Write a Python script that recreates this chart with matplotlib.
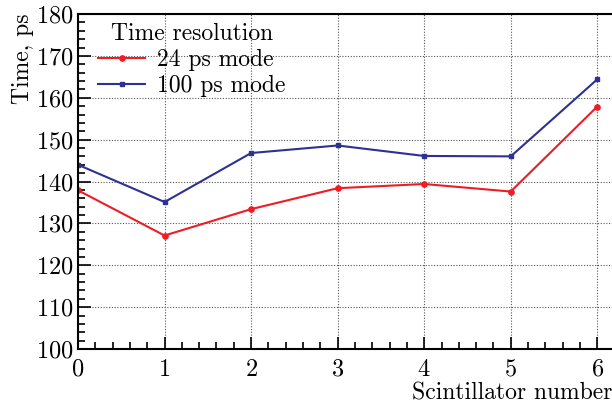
import matplotlib
matplotlib.use("Agg")
import matplotlib.pyplot as plt
from matplotlib.ticker import MultipleLocator

# valeurs
scint = [0, 1, 2, 3, 4, 5, 6]
res_24ps = [137.9, 127.1, 133.4, 138.4, 139.4, 137.6, 157.9]
res_100ps = [144.0, 135.1, 146.8, 148.6, 146.1, 146.0, 164.4]

plt.rcParams["font.family"] = "cmr10"
plt.rcParams["mathtext.fontset"] = "cm"
plt.rcParams["axes.formatter.use_mathtext"] = True

fig = plt.figure(figsize=(6.12, 4.05), dpi=100)
ax = fig.add_axes([78 / 612, 1 - 349 / 405, 1 - 78 / 612, (349 - 14) / 405])

ax.plot(scint, res_24ps, color="#ee1c25", lw=1.5, marker="o", ms=3.8,
        label="24 ps mode")
ax.plot(scint, res_100ps, color="#2e3192", lw=1.5, marker="s", ms=3.5,
        label="100 ps mode")

ax.set_xlim(0, 6.17)
ax.set_ylim(100, 180)
ax.xaxis.set_major_locator(MultipleLocator(1))
ax.xaxis.set_minor_locator(MultipleLocator(0.2))
ax.yaxis.set_major_locator(MultipleLocator(10))
ax.yaxis.set_minor_locator(MultipleLocator(2))
ax.tick_params(which="both", direction="in", top=False, right=False,
               labelsize=17.5, width=1.2)
ax.tick_params(axis="x", pad=7)
ax.tick_params(axis="y", pad=3)
ax.tick_params(which="major", length=9)
ax.tick_params(which="minor", length=5)

ax.grid(True, which="major", color="#555555", ls=(0, (1, 1.5)), lw=0.8)
ax.spines["right"].set_visible(False)
for s in ["left", "bottom", "top"]:
    ax.spines[s].set_linewidth(1.5)

ax.set_ylabel("Time, ps", fontsize=17, loc="top", labelpad=2)
ax.set_xlabel("Scintillator number", fontsize=17, loc="right", labelpad=1)

leg = ax.legend(title="Time resolution", loc="upper left", frameon=False,
                fontsize=17, title_fontsize=17, handlelength=2.0,
                bbox_to_anchor=(0.033, 0.98), borderaxespad=0.0,
                labelspacing=0.17, handletextpad=0.5, borderpad=0.1)

fig.savefig("out.png", dpi=100)
